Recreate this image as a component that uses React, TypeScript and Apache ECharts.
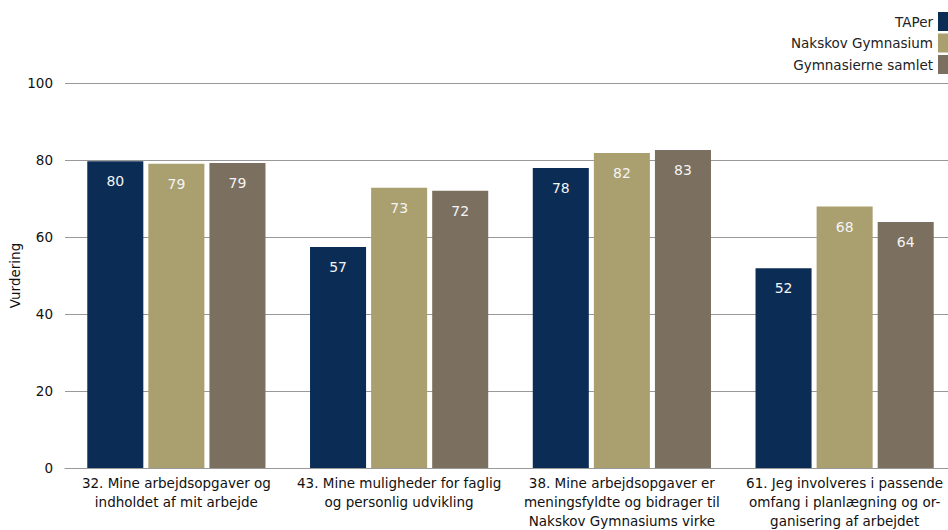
import React, { useEffect, useRef } from "react";
import * as echarts from "echarts";

const categories = [
  "32. Mine arbejdsopgaver og\nindholdet af mit arbejde",
  "43. Mine muligheder for faglig\nog personlig udvikling",
  "38. Mine arbejdsopgaver er\nmeningsfyldte og bidrager til\nNakskov Gymnasiums virke",
  "61. Jeg involveres i passende\nomfang i planlægning og or-\nganisering af arbejdet",
];
const seriesNames = ["TAPer", "Nakskov Gymnasium", "Gymnasierne samlet"];
const taper = [79.7, 57.4, 77.9, 51.9];
const nakskov = [79.0, 72.8, 81.8, 67.9];
const samlet = [79.2, 72.0, 82.6, 63.9];
const colors = ["#0b2d55", "#a99f6f", "#7b6f5f"];
const yTicks = { min: 0, max: 100, interval: 20 };

const FONT = "DejaVu Sans";

export default function App() {
  const ref = useRef<HTMLDivElement>(null);
  useEffect(() => {
    if (!ref.current) return;
    const chart = echarts.init(ref.current, null, { renderer: "svg" });
    const values = [taper, nakskov, samlet];
    chart.setOption({
      animation: false,
      textStyle: { fontFamily: FONT },
      grid: { left: 65, width: 891, top: 83, bottom: 62, containLabel: false, outerBoundsMode: "none" },
      legend: {
        orient: "vertical",
        right: 0,
        top: 12,
        padding: 0,
        align: "right",
        itemWidth: 10,
        itemHeight: 19,
        itemGap: 2.5,
        icon: "rect",
        textStyle: { fontFamily: FONT, fontSize: 13.5, color: "#222", padding: [0, 0, 0, 0] },
        data: seriesNames,
      },
      xAxis: {
        type: "category",
        data: categories,
        axisLine: { show: true, lineStyle: { color: "#999", width: 1 } },
        axisTick: { show: false },
        axisLabel: {
          fontFamily: FONT,
          fontSize: 13.5,
          color: "#111",
          lineHeight: 19,
          margin: 5,
          interval: 0,
          align: "center",
        },
      },
      yAxis: {
        type: "value",
        min: yTicks.min,
        max: yTicks.max,
        interval: yTicks.interval,
        name: "Vurdering",
        nameLocation: "middle",
        nameGap: 43,
        nameRotate: 90,
        nameMoveOverlap: false,
        nameTextStyle: { fontFamily: FONT, fontSize: 13.5, color: "#111" },
        axisLine: { show: false },
        axisTick: { show: false },
        axisLabel: { fontFamily: FONT, fontSize: 13.5, color: "#111", margin: 12 },
        splitLine: { show: true, lineStyle: { color: "#999", width: 1 } },
      },
      series: seriesNames.map((name, i) => ({
        name,
        type: "bar",
        data: values[i],
        barCategoryGap: "20%",
        barGap: "9%",
        itemStyle: { color: colors[i] },
        label: {
          show: true,
          position: "insideTop",
          distance: 13,
          color: "#f4f4f4",
          fontFamily: FONT,
          fontSize: 14,
          formatter: (p: any) => Math.round(p.value).toString(),
        },
      })),
    });
    return () => chart.dispose();
  }, []);
  return <div ref={ref} style={{ width: 948, height: 530, position: "absolute", left: 0, top: 0 }} />;
}
